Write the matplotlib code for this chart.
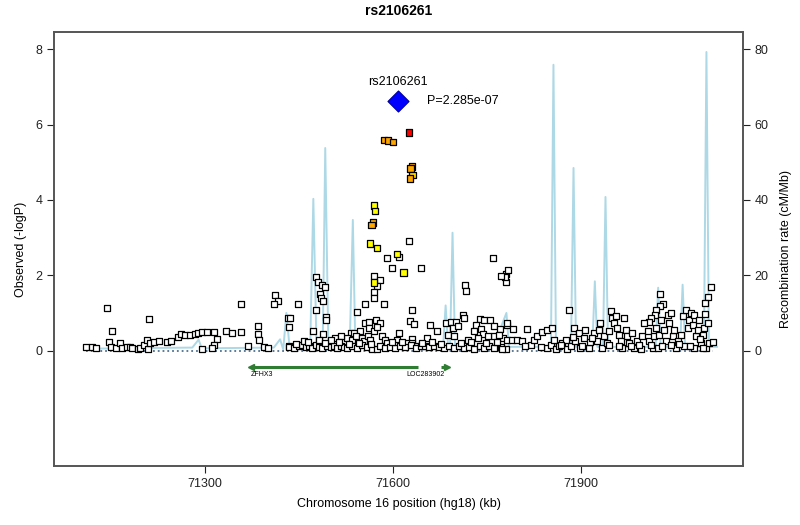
import matplotlib
matplotlib.use("Agg")
import matplotlib.pyplot as plt

plt.rcParams['font.family'] = ['Liberation Sans', 'DejaVu Sans']

# SNP positions (kb) and -log10 P for the grey/white SNPs
pos = [71111, 71120, 71126, 71144, 71152, 71147, 71150, 71158, 71164, 71168,
       71176, 71181, 71184, 71193, 71197, 71203, 71208, 71209, 71213, 71219,
       71227, 71239, 71246, 71257, 71262, 71269, 71277, 71284, 71289, 71296,
       71304, 71314, 71211, 71320, 71315, 71312, 71296, 71334, 71343, 71357,
       71369, 71385, 71384, 71386, 71394, 71400, 71357, 71412, 71416, 71410,
       71433, 71434, 71434,
       # middle block
       71478, 71480, 71487, 71491, 71484, 71486, 71489, 71448, 71477, 71436,
       71493, 71494, 71473, 71489, 71555, 71585, 71542, 71630, 71627, 71633,
       71711, 71713, 71659, 71670, 71685, 71692, 71700, 71695, 71703, 71739,
       71746, 71755, 71732, 71729, 71740, 71743, 71761, 71771, 71782, 71761,
       71775, 71556, 71562, 71573, 71580, 71562, 71570, 71575, 71533, 71538,
       71548, 71507, 71527, 71534, 71541, 71550, 71554, 71560, 71563, 71583,
       71588, 71591, 71610, 71606, 71607, 71631, 71623, 71631, 71639,
       71434, 71442, 71450, 71455, 71461, 71466, 71471, 71477, 71482, 71487,
       71495, 71501, 71506, 71511, 71517, 71522, 71527, 71535, 71543, 71551,
       71559, 71567, 71575, 71580, 71588, 71596, 71604, 71612, 71620, 71628,
       71636, 71644, 71651, 71658, 71666, 71673, 71681, 71689, 71697, 71705,
       71713, 71721, 71729, 71739, 71745, 71753, 71761, 71772, 71780,
       71458, 71482, 71501, 71517, 71655, 71687, 71697, 71719, 71735, 71751,
       71769, 71782, 71445, 71464, 71492, 71514, 71530, 71546, 71565, 71599,
       71615, 71646, 71662, 71677, 71708, 71725, 71748, 71766,
       # right block
       72107, 72103, 72097, 72097, 72026, 72031, 72026, 72019, 72018, 72012,
       72008, 71780, 71781, 71783, 71778, 71881, 71782, 71792, 71814, 71790,
       71798, 71806, 71774, 71820, 71825, 71830, 71838, 71846, 71854, 71846,
       71852, 71857, 71860, 71865, 71870, 71876, 71878, 71884, 71889, 71891,
       71897, 71899, 71905, 71907, 71913, 71915, 71921, 71926, 71929, 71931,
       71934, 71937, 71941, 71945, 71947, 71950, 71953, 71955, 71958, 71961,
       71963, 71966, 71969, 71971, 71974, 71977, 71982, 71985, 71990, 71995,
       71998, 72001, 72006, 72008, 72014, 72016, 72019, 72022, 72024, 72027,
       72032, 72035, 72038, 72040, 72043, 72046, 72048, 72051, 72054, 72059,
       72062, 72064, 72067, 72070, 72072, 72075, 72078, 72080, 72083, 72086,
       72088, 72091, 72094, 72096, 72099, 72102, 72104, 72094, 72080,
       71810, 71836, 71868, 71887, 71902, 71918, 71944, 71960, 71979, 71993,
       72011, 72029, 72044, 72057, 72073, 72090, 72110,
       # near the index SNP
       71625, 71610, 71590, 71599, 71644, 71570, 71580, 71574, 71569, 71569,
       71759, 71772, 71715, 71716]
logp = [0.09, 0.09, 0.06, 1.13, 0.51, 0.22, 0.09, 0.07, 0.20, 0.07,
        0.10, 0.09, 0.07, 0.05, 0.07, 0.16, 0.29, 0.03, 0.20, 0.22,
        0.25, 0.22, 0.26, 0.36, 0.44, 0.42, 0.42, 0.45, 0.47, 0.49,
        0.49, 0.49, 0.85, 0.31, 0.16, 0.07, 0.03, 0.53, 0.47, 0.50,
        0.13, 0.64, 0.44, 0.27, 0.09, 0.07, 1.25, 1.47, 1.33, 1.25,
        0.86, 0.63, 0.11,
        1.95, 1.81, 1.75, 1.69, 1.49, 1.40, 1.31, 1.24, 1.07, 0.87,
        0.89, 0.82, 0.51, 0.44, 1.24, 1.24, 1.02, 1.07, 0.78, 0.71,
        0.95, 0.87, 0.69, 0.51, 0.72, 0.75, 0.75, 0.60, 0.65, 0.84,
        0.82, 0.82, 0.69, 0.51, 0.57, 0.45, 0.65, 0.57, 0.69, 0.38,
        0.34, 0.72, 0.75, 0.80, 0.72, 0.60, 0.51, 0.63, 0.47, 0.47,
        0.51, 0.34, 0.34, 0.29, 0.40, 0.34, 0.25, 0.38, 0.29, 0.38,
        0.29, 0.20, 0.47, 0.29, 0.16, 0.32, 0.20, 0.19, 0.13,
        0.10, 0.08, 0.11, 0.16, 0.10, 0.13, 0.06, 0.15, 0.10, 0.06,
        0.11, 0.09, 0.13, 0.08, 0.13, 0.09, 0.06, 0.11, 0.08, 0.15,
        0.10, 0.05, 0.04, 0.11, 0.06, 0.10, 0.06, 0.11, 0.10, 0.15,
        0.06, 0.13, 0.11, 0.10, 0.13, 0.10, 0.07, 0.13, 0.06, 0.11,
        0.06, 0.10, 0.04, 0.13, 0.06, 0.11, 0.06, 0.10, 0.04,
        0.25, 0.29, 0.27, 0.38, 0.34, 0.42, 0.38, 0.29, 0.34, 0.38,
        0.42, 0.27, 0.18, 0.22, 0.20, 0.24, 0.18, 0.21, 0.17, 0.22,
        0.24, 0.20, 0.23, 0.18, 0.21, 0.24, 0.19, 0.22,
        1.69, 1.42, 1.26, 0.97, 1.50, 1.24, 1.18, 1.07, 0.95, 0.87,
        0.75, 2.04, 1.81, 2.15, 1.95, 1.09, 0.72, 0.57, 0.57, 0.29,
        0.27, 0.25, 0.04, 0.16, 0.27, 0.40, 0.49, 0.56, 0.60, 0.07,
        0.16, 0.29, 0.03, 0.12, 0.20, 0.29, 0.04, 0.13, 0.60, 0.25,
        0.47, 0.07, 0.34, 0.54, 0.07, 0.22, 0.47, 0.25, 0.56, 0.73,
        0.07, 0.38, 0.20, 0.51, 1.04, 0.87, 0.73, 0.93, 0.60, 0.42,
        0.25, 0.07, 0.87, 0.56, 0.38, 0.20, 0.47, 0.07, 0.25, 0.03,
        0.38, 0.73, 0.51, 0.25, 0.07, 0.38, 0.60, 0.07, 0.42, 0.82,
        0.56, 0.25, 0.95, 0.73, 1.00, 0.38, 0.56, 0.07, 0.25, 0.42,
        0.91, 0.12, 1.09, 0.60, 0.82, 1.00, 0.69, 0.95, 0.38, 0.56,
        0.82, 0.20, 0.42, 0.60, 0.07, 0.73, 0.20, 0.07, 0.07,
        0.12, 0.10, 0.14, 0.36, 0.12, 0.33, 0.15, 0.11, 0.13, 0.16,
        0.14, 0.12, 0.15, 0.18, 0.13, 0.30, 0.22,
        2.90, 2.48, 2.46, 2.20, 2.20, 1.99, 1.87, 1.72, 1.55, 1.41,
        2.46, 1.97, 1.75, 1.57]

# SNPs coloured by LD with the index SNP
ld_pos = [71626, 71586, 71592, 71600, 71630, 71628, 71631, 71627,
          71570, 71571, 71568, 71566, 71563, 71575, 71606, 71617, 71570]
ld_logp = [5.79, 5.60, 5.58, 5.54, 4.89, 4.84, 4.66, 4.57,
           3.85, 3.71, 3.40, 3.34, 2.84, 2.72, 2.56, 2.07, 1.81]
ld_col = ['red', 'orange', 'orange', 'orange', 'orange', 'orange', 'gold', 'orange',
          'yellow', 'yellow', 'orange', 'orange', 'yellow', 'yellow', 'yellow', 'yellow', 'yellow']

index_snp = 'rs2106261'
index_pos = 71608
index_logp = 6.64
index_p = '2.285e-07'

# recombination rate (cM/Mb)
rec_pos = [71108, 71280, 71290, 71295, 71410, 71420, 71425, 71430, 71435,
           71468, 71473, 71478, 71488, 71492, 71497, 71531, 71536, 71540,
           71600, 71680, 71684, 71688, 71691, 71695, 71699, 71760, 71781,
           71785, 71852, 71856, 71860, 71884, 71888, 71892, 71918, 71922,
           71926, 71935, 71939, 71943, 72019, 72023, 72027, 72058, 72062,
           72066, 72096, 72100, 72104, 72117]
rec_rate = [0.5, 0.8, 2.9, 0.6, 0.8, 3.0, 0.3, 10.0, 1.0,
            1.0, 40.3, 1.5, 1.5, 53.8, 1.0, 1.0, 34.7, 0.8,
            0.5, 1.0, 12.0, 1.0, 1.0, 31.3, 1.0, 1.0, 10.0,
            1.0, 1.0, 75.9, 1.0, 1.0, 48.5, 1.0, 1.0, 18.4,
            1.0, 1.0, 40.8, 1.0, 1.0, 16.7, 1.0, 1.0, 17.5,
            1.0, 1.0, 79.3, 1.0, 1.0]

gene_names = ['ZFHX3', 'LOC283902']
gene_start = [71373, 71676]
gene_end = [71640, 71686]
gene_strand = ['-', '+']

fig = plt.figure(figsize=(8, 5.25), dpi=100)
ax = fig.add_axes([0.068, 0.112, 0.8605, 0.827])
ax2 = ax.twinx()

ax.set_xlim(71060, 72158)
ax.set_ylim(-3.07, 8.46)
ax2.set_ylim(-30.7, 84.6)

ax2.plot(rec_pos, rec_rate, color='#add8e6', lw=1.4, zorder=1)
ax.set_zorder(ax2.get_zorder() + 1)
ax.patch.set_visible(False)

ax.plot([min(pos), max(pos)], [0, 0], color='#51708f', lw=1.3, ls=':', zorder=2)

ax.scatter(pos, logp, marker='s', s=21, facecolor='white', edgecolor='black',
           linewidth=0.9, zorder=3)
ax.scatter(ld_pos, ld_logp, marker='s', s=21, c=ld_col, edgecolor='black',
           linewidth=0.9, zorder=4)
ax.scatter([index_pos], [index_logp], marker='D', s=115, color='#0000ff',
           edgecolor='#00008b', linewidth=0.8, zorder=5)
ax.text(index_pos, index_logp + 0.5, index_snp, ha='center', va='center', fontsize=9)
ax.text(index_pos + 47, index_logp, 'P=' + index_p, ha='left', va='center', fontsize=9)

# genes
for name, s, e, st in zip(gene_names, gene_start, gene_end, gene_strand):
    ax.plot([s, e], [-0.43, -0.43], color='#2e7d32', lw=2.2, solid_capstyle='butt', zorder=3)
    if st == '-':
        ax.plot([s], [-0.43], marker='<', color='#2e7d32', ms=5, zorder=3)
        ax.text(s, -0.64, name, ha='left', va='center', fontsize=5)
    else:
        ax.plot([e], [-0.43], marker='>', color='#2e7d32', ms=5, zorder=3)
        ax.text(e - 4, -0.64, name, ha='right', va='center', fontsize=5)

ax.set_xticks([71300, 71600, 71900])
ax.set_yticks([0, 2, 4, 6, 8])
ax2.set_yticks([0, 20, 40, 60, 80])
for a in (ax, ax2):
    a.tick_params(direction='out', length=5, width=0.8, labelsize=9, colors='#222222')
    for sp in a.spines.values():
        sp.set_color('#555555')
        sp.set_linewidth(1.2)

ax.set_xlabel('Chromosome 16 position (hg18) (kb)', fontsize=9, labelpad=6)
ax.set_ylabel('Observed (-logP)', fontsize=9, labelpad=6)
ax2.set_ylabel('Recombination rate (cM/Mb)', fontsize=9, labelpad=8)
ax.set_title(index_snp, fontsize=10, fontweight='bold', pad=12)

fig.savefig('out.png', dpi=100)
